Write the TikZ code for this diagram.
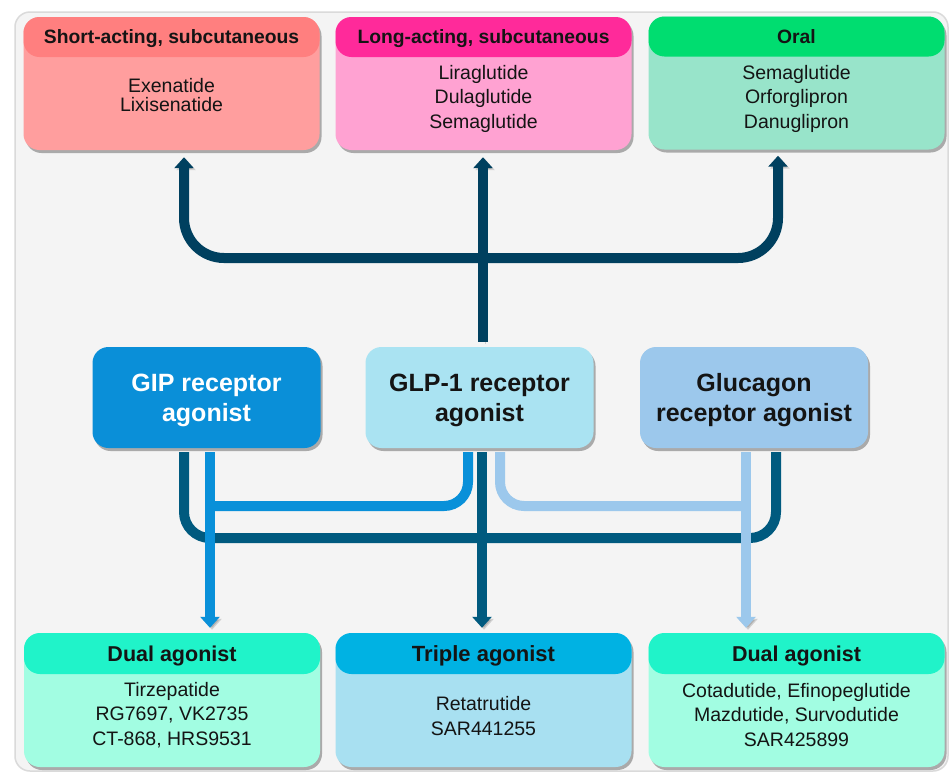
\documentclass[tikz,border=0pt]{standalone}
\usepackage{fontspec}
\setmainfont{Liberation Sans}
\usetikzlibrary{shadows,arrows.meta}
\definecolor{panelfill}{HTML}{F4F4F4}
\definecolor{paneldraw}{HTML}{DADADA}
\definecolor{hA}{HTML}{FF7F7F}\definecolor{bA}{HTML}{FF9E9E}
\definecolor{hB}{HTML}{FF2A9A}\definecolor{bB}{HTML}{FFA2D2}
\definecolor{hC}{HTML}{00DD70}\definecolor{bC}{HTML}{98E4CA}
\definecolor{hD}{HTML}{20F3C9}\definecolor{bD}{HTML}{A2FDE2}
\definecolor{hT}{HTML}{00B2E3}\definecolor{bT}{HTML}{A8E0F1}
\definecolor{cGIP}{HTML}{0A8FD8}\definecolor{cGLP}{HTML}{AAE3F2}\definecolor{cGLC}{HTML}{9CC8EC}
\definecolor{navyA}{HTML}{00405F}\definecolor{navyB}{HTML}{005A7F}
\definecolor{medline}{HTML}{0990D9}\definecolor{lightline}{HTML}{9CC8EC}
\definecolor{ink}{HTML}{141414}
\tikzset{
  boxbody/.style={rectangle, rounded corners=16pt, inner sep=0pt, minimum width=296pt, minimum height=133pt,
     drop shadow={shadow xshift=2pt, shadow yshift=-3pt, opacity=0.3, fill=black}},
  boxhead/.style={rectangle, rounded corners=16pt, inner sep=0pt, minimum width=296pt, minimum height=40pt,
     anchor=north, text=ink, text depth=0pt, font=\bfseries\fontsize{19.3}{23}\selectfont},
  bodytext/.style={align=center, text=ink, inner sep=0pt},
  recbox/.style={rectangle, rounded corners=16pt, inner sep=0pt, minimum width=228pt, minimum height=101pt,
     align=center, text depth=0pt, font=\bfseries\fontsize{25}{30}\selectfont,
     drop shadow={shadow xshift=2pt, shadow yshift=-3pt, opacity=0.3, fill=black}},
  conn/.style={line width=10pt, preaction={draw=black, opacity=0.15, transform canvas={shift={(2pt,-2pt)}}}},
  tiphead/.style={-{Triangle[width=19pt,length=11pt]}},
}
\begin{document}
\begin{tikzpicture}[x=1pt,y=-1pt]
\useasboundingbox (0,0) rectangle (949,774);
\fill[white] (0,0) rectangle (949,774);
\draw[fill=panelfill, draw=paneldraw, line width=1.5pt, rounded corners=15pt] (15,12) rectangle (948,771);

% x positions of connectors
\coordinate (xa) at (184,0);
\coordinate (xb) at (483,0);
\coordinate (xc) at (778,0);
\coordinate (ybar) at (0,258);
\coordinate (da) at (184,0);
\coordinate (db) at (482,0);
\coordinate (dc) at (776,0);
\coordinate (ydark) at (0,538);
\coordinate (ma) at (210,0);
\coordinate (mb) at (468,0);
\coordinate (ymed) at (0,506);
\coordinate (la) at (500,0);
\coordinate (lb) at (746,0);

% top boxes
\node[boxbody, fill=bA] (b1) at (171.5,83.5) {};
\node[boxhead, fill=hA] (h1) at (b1.north) {Short-acting, subcutaneous};
\node[bodytext, font=\fontsize{19.5}{19.5}\selectfont] (t1) at (171.5,95) {Exenatide\\Lixisenatide};

\node[boxbody, fill=bB] (b2) at (483.5,83.5) {};
\node[boxhead, fill=hB] (h2) at (b2.north) {Long-acting, subcutaneous};
\node[bodytext, font=\fontsize{19.5}{24.5}\selectfont] (t2) at (483.5,98.5) {Liraglutide\\Dulaglutide\\Semaglutide};

\node[boxbody, fill=bC] (b3) at (796.5,83) {};
\node[boxhead, fill=hC] (h3) at (b3.north) {Oral};
\node[bodytext, font=\fontsize{19.5}{24.5}\selectfont] (t3) at (796.5,98.5) {Semaglutide\\Orforglipron\\Danuglipron};

% receptor boxes
\node[recbox, fill=cGIP, text=white] (gip) at (206.5,397.5) {GIP receptor\\agonist};
\node[recbox, fill=cGLP, text=ink] (glp) at (479.5,397.5) {GLP-1 receptor\\agonist};
\node[recbox, fill=cGLC, text=ink] (glc) at (754,397.5) {Glucagon\\receptor agonist};

% bottom boxes
\node[boxbody, fill=bD, minimum height=134pt] (d1) at (172,700) {};
\node[boxhead, fill=hD, minimum height=41pt, font=\bfseries\fontsize{21.5}{25}\selectfont] (e1) at (d1.north) {Dual agonist};
\node[bodytext, font=\fontsize{19.5}{24.5}\selectfont] (s1) at (172,715) {Tirzepatide\\RG7697, VK2735\\CT-868, HRS9531};

\node[boxbody, fill=bT, minimum height=134pt] (d2) at (483.5,700) {};
\node[boxhead, fill=hT, minimum height=41pt, font=\bfseries\fontsize{22}{25}\selectfont] (e2) at (d2.north) {Triple agonist};
\node[bodytext, font=\fontsize{19.5}{24.5}\selectfont] (s2) at (483.5,716) {Retatrutide\\SAR441255};

\node[boxbody, fill=bD, minimum height=134pt] (d3) at (796.5,700) {};
\node[boxhead, fill=hD, minimum height=41pt, font=\bfseries\fontsize{21.5}{25}\selectfont] (e3) at (d3.north) {Dual agonist};
\node[bodytext, font=\fontsize{19.5}{24.5}\selectfont] (s3) at (796.5,715) {Cotadutide, Efinopeglutide\\Mazdutide, Survodutide\\SAR425899};

% top connectors
\draw[conn, navyA, {Triangle[width=19pt,length=11pt]}-{Triangle[width=19pt,length=11pt]}, rounded corners=40pt]
  ([yshift=-7pt]b1.south -| xa) -- (xa |- ybar) -- (xc |- ybar) -- ([yshift=-6pt]b3.south -| xc);
\draw[conn, navyA, tiphead] ([yshift=5pt]glp.north -| xb) -- ([yshift=-7pt]b2.south -| xb);

% bottom connectors: triple (dark)
\draw[conn, navyB, rounded corners=26pt]
  ([yshift=-4pt]gip.south -| da) -- (da |- ydark) -- (dc |- ydark) -- ([yshift=-4pt]glc.south -| dc);
\draw[conn, navyB, tiphead] ([yshift=-4pt]glp.south -| db) -- ([yshift=5pt]d2.north -| db);

% GIP + GLP-1 dual (medium blue)
\draw[conn, medline, rounded corners=24pt]
  ([yshift=-4pt]glp.south -| mb) -- (mb |- ymed) -- (ma |- ymed);
\draw[conn, medline, tiphead] ([yshift=-4pt]gip.south -| ma) -- ([yshift=5pt]d1.north -| ma);

% GLP-1 + glucagon dual (light blue)
\draw[conn, lightline, rounded corners=24pt]
  ([yshift=-4pt]glp.south -| la) -- (la |- ymed) -- (lb |- ymed);
\draw[conn, lightline, tiphead] ([yshift=-4pt]glc.south -| lb) -- ([yshift=5pt]d3.north -| lb);
\end{tikzpicture}
\end{document}
